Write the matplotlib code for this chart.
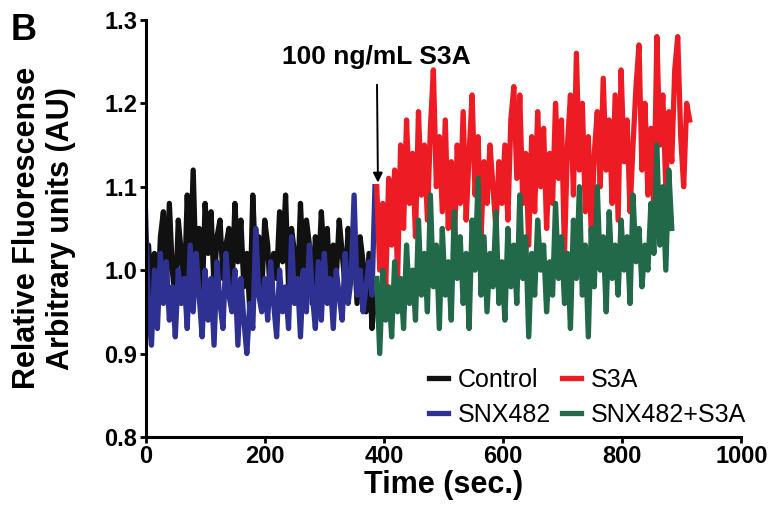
import matplotlib
matplotlib.use("Agg")
import matplotlib.pyplot as plt
import numpy as np

plt.rcParams["font.family"] = ["Liberation Sans", "DejaVu Sans"]

# sampled every 5 s
step = 5
ctrl_start, s3a_start = 0, 388

control = [0.99, 1.03, 0.97, 1.02, 0.95, 1.04, 1.07, 0.98, 1.08, 1.00, 0.96, 1.06, 1.02,
           0.97, 1.09, 1.00, 1.12, 0.99, 1.05, 0.96, 1.08, 1.02, 1.07, 0.98, 1.04, 1.06,
           0.99, 1.03, 1.05, 0.97, 1.08, 1.01, 1.06, 0.98, 1.02, 0.95, 1.09, 1.00, 1.04,
           0.97, 1.06, 1.03, 0.96, 1.02, 0.99, 1.07, 1.01, 1.09, 0.98, 1.05, 1.02, 0.97,
           1.08, 1.00, 1.06, 1.03, 0.96, 1.04, 0.99, 1.07, 1.01, 1.05, 0.97, 1.03, 0.99,
           1.06, 1.02, 0.98, 1.05, 1.00, 1.03, 0.96, 1.04, 1.01, 0.95, 1.02, 0.93, 0.97]
snx482 = [1.07, 0.95, 0.91, 1.00, 0.93, 1.02, 0.96, 1.01, 0.94, 0.98, 0.92, 1.00, 0.96,
          0.99, 0.93, 1.03, 0.95, 1.02, 0.97, 0.92, 1.00, 0.94, 0.99, 0.91, 1.01, 0.96,
          0.93, 1.02, 0.97, 0.95, 1.00, 0.91, 0.99, 0.94, 0.90, 0.96, 0.93, 1.05, 0.97,
          0.95, 0.99, 0.94, 1.01, 0.96, 0.92, 1.00, 0.95, 0.98, 0.93, 1.04, 0.96, 0.99,
          0.92, 1.00, 0.95, 1.03, 0.97, 0.93, 1.01, 0.94, 1.02, 0.96, 0.99, 0.93, 1.00,
          0.97, 0.94, 1.02, 0.96, 0.99, 1.09, 0.97, 1.00, 0.95, 0.98, 1.01, 0.97, 1.10]
s3a = [1.10, 1.00, 1.08, 0.98, 1.11, 1.03, 1.12, 0.99, 1.15, 1.05, 1.18, 1.08, 1.14, 1.04,
       1.19, 1.09, 1.15, 1.06, 1.17, 1.24, 1.10, 1.16, 1.07, 1.18, 1.05, 1.13, 1.02, 1.15,
       1.08, 1.19, 1.06, 1.14, 1.21, 1.09, 1.16, 1.04, 1.13, 1.08, 1.15, 1.10, 1.05, 1.13,
       1.08, 1.15, 1.06, 1.18, 1.22, 1.11, 1.21, 1.08, 1.14, 1.03, 1.16, 1.07, 1.19, 1.10,
       1.17, 1.05, 1.14, 1.08, 1.20, 1.11, 1.18, 1.02, 1.15, 1.21, 1.09, 1.26, 1.12, 1.20,
       1.07, 1.16, 1.04, 1.14, 1.19, 1.10, 1.23, 1.12, 1.18, 1.08, 1.21, 1.06, 1.24, 1.13,
       1.18, 1.07, 1.15, 1.22, 1.27, 1.12, 1.20, 1.09, 1.17, 1.07, 1.28, 1.15, 1.21, 1.10,
       1.19, 1.13, 1.24, 1.28, 1.16, 1.10, 1.20, 1.18]
snx482_s3a = [0.99, 0.90, 1.00, 0.94, 0.98, 0.92, 1.01, 0.95, 0.99, 0.93, 1.03, 0.96, 1.00,
              0.94, 1.06, 0.97, 1.02, 0.95, 1.09, 0.98, 1.03, 0.93, 1.05, 0.97, 1.01, 0.94,
              1.07, 0.99, 1.04, 0.96, 1.02, 0.93, 1.06, 1.00, 1.11, 0.97, 1.04, 0.95, 1.02,
              0.98, 1.07, 0.96, 1.01, 0.94, 1.05, 0.98, 1.03, 0.96, 1.09, 0.99, 1.04, 0.92,
              1.02, 0.97, 1.06, 1.00, 1.03, 0.95, 1.01, 0.97, 1.08, 0.99, 1.04, 0.96, 1.02,
              0.93, 1.06, 0.99, 1.10, 0.97, 1.03, 0.92, 1.05, 0.98, 1.10, 1.00, 1.04, 0.95,
              1.07, 0.99, 1.03, 0.97, 1.06, 1.00, 1.04, 0.96, 1.09, 1.01, 1.05, 0.98, 1.03,
              1.00, 1.08, 1.02, 1.15, 1.03, 1.10, 1.00, 1.12, 1.05]

x_ticks = [0, 200, 400, 600, 800, 1000]
y_ticks = [0.8, 0.9, 1.0, 1.1, 1.2, 1.3]


def times(start, values):
    return start + step * np.arange(len(values))


fig = plt.figure(figsize=(7.74, 5.11), dpi=100)
ax = fig.add_axes([0.188, 0.145, 0.770, 0.816])

lw = 3.8
# draw order: blue over black, green over red (also gives row-wise legend)
ax.plot(times(ctrl_start, control), control, color="#111111", lw=lw, label="Control")
ax.plot(times(ctrl_start, snx482), snx482, color="#2e3192", lw=lw, label="SNX482")
ax.plot(times(s3a_start, s3a), s3a, color="#ed1c24", lw=lw, label="S3A")
ax.plot(times(s3a_start, snx482_s3a), snx482_s3a, color="#22694a", lw=lw,
        label="SNX482+S3A")

ax.set_xlim(0, 1000)
ax.set_ylim(0.8, 1.3)
ax.set_xticks(x_ticks)
ax.set_yticks(y_ticks)
ax.set_yticklabels([f"{v:.1f}" for v in y_ticks])
for side in ("top", "right"):
    ax.spines[side].set_visible(False)
for side in ("left", "bottom"):
    ax.spines[side].set_linewidth(2.2)
ax.tick_params(width=2, length=4, labelsize=17, pad=2)
for lab in ax.get_xticklabels() + ax.get_yticklabels():
    lab.set_fontweight("bold")

ax.set_xlabel("Time (sec.)", fontsize=22, fontweight="bold", labelpad=1)
ax.set_ylabel("Relative Fluorescense\nArbitrary units (AU)", fontsize=22,
              fontweight="bold", linespacing=1.15)
ax.yaxis.set_label_coords(-0.117, 0.5)

ax.annotate("100 ng/mL S3A", xy=(390, 1.105), xytext=(388, 1.255),
            ha="center", va="center", fontsize=19, fontweight="bold",
            arrowprops=dict(arrowstyle="-|>", color="black", lw=1.4,
                            mutation_scale=14, shrinkA=9, shrinkB=0))

fig.text(0.014, 0.975, "B", fontsize=26, fontweight="bold", va="top", ha="left")

ax.legend(ncol=2, frameon=False, loc="lower right", bbox_to_anchor=(1.025, 0.0),
          fontsize=18, handlelength=0.75, handletextpad=0.4, columnspacing=0.45,
          labelspacing=0.45, borderaxespad=0)

fig.savefig("out.png", dpi=100)
